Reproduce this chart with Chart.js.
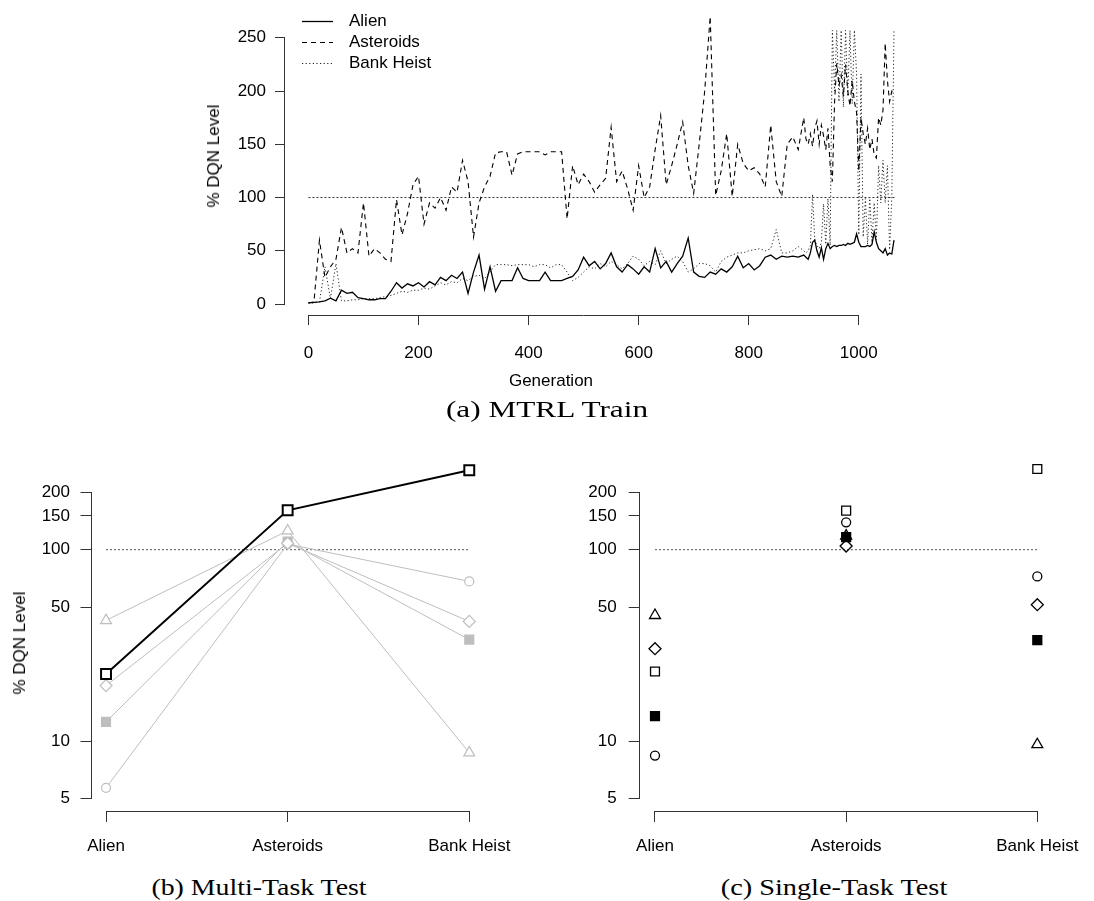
<!DOCTYPE html>
<html>
<head>
<meta charset="utf-8">
<title>MTRL</title>
<script src="https://cdn.jsdelivr.net/npm/chart.js@4.4.1/dist/chart.umd.min.js"></script>
<style>
  body { margin: 0; background: #fff; }
  #page { position: relative; width: 1094px; height: 901px; overflow: hidden; font-family: "Liberation Sans", Arial, sans-serif; color: #000; }
  canvas { position: absolute; }
  .lbl { position: absolute; white-space: nowrap; font-size: 17px; transform: translate(-50%, -50%); }
  .rot { transform: translate(-50%, -50%) rotate(-90deg); }
  .cap { position: absolute; white-space: nowrap; font-family: "Liberation Serif", serif; font-size: 23px; }
</style>
</head>
<body>
<div id="page">
  <canvas id="trainChart" width="1094" height="403" style="left:0px;top:-3px"></canvas>
  <canvas id="multiChart" width="547" height="430" style="left:0px;top:430px"></canvas>
  <canvas id="singleChart" width="547" height="430" style="left:547px;top:430px"></canvas>
  <div class="lbl rot" style="left:214px;top:156px">% DQN Level</div>
  <div class="lbl" style="left:551px;top:381px">Generation</div>
  <div class="cap" style="left:547px;top:410px;transform:translate(-50%,-50%) scaleX(1.36)">(a) MTRL Train</div>
  <div class="lbl rot" style="left:20px;top:643px">% DQN Level</div>
  <div class="cap" style="left:259px;top:888px;transform:translate(-50%,-50%) scaleX(1.21)">(b) Multi-Task Test</div>
  <div class="cap" style="left:834px;top:888px;transform:translate(-50%,-50%) scaleX(1.23)">(c) Single-Task Test</div>
</div>
<script>
// (a) training curves, % of DQN level per generation
const generations = [
  0, 10, 20, 30, 40, 50, 60, 70, 80, 90,
  100, 110, 120, 130, 140, 150, 160, 170, 180, 190,
  200, 210, 220, 230, 240, 250, 260, 270, 280, 290,
  300, 310, 320, 330, 340, 350, 360, 370, 380, 390,
  400, 410, 420, 430, 440, 450, 460, 470, 480, 490,
  500, 510, 520, 530, 540, 550, 560, 570, 580, 590,
  600, 610, 620, 630, 640, 650, 660, 670, 680, 690,
  700, 710, 720, 730, 740, 750, 760, 770, 780, 790,
  800, 810, 820, 830, 840, 850, 860, 870, 880, 890,
  900, 904, 908, 912, 916, 920, 924, 928, 932, 936, 940,
  944, 948, 952, 956, 960, 964, 968, 972, 976, 980,
  984, 988, 992, 996, 1000, 1004, 1008, 1012, 1016, 1020,
  1024, 1028, 1032, 1036, 1040, 1044, 1048, 1052, 1056, 1060, 1064
];
const alienScore = [
  1, 1.5, 2, 3, 5.5, 3, 13, 10, 11, 6,
  5, 4, 4, 5, 5, 12, 20, 15, 19, 17,
  20, 16, 21, 18, 25, 22, 27, 24, 30, 10,
  30, 46, 14, 35, 12, 22, 22, 22, 34, 24,
  22, 22, 22, 30, 22, 22, 22, 24, 26, 32,
  44, 36, 40, 33, 38, 48, 35, 30, 37, 33,
  28, 35, 30, 52, 34, 40, 30, 38, 45, 62,
  30, 26, 25, 30, 28, 33, 30, 35, 45, 34,
  38, 32, 36, 44, 46, 42, 45, 44, 45, 44,
  46, 44, 42, 48, 58, 60, 50, 44, 53, 42, 52,
  57, 52, 54, 55, 54, 55, 55, 56, 55, 57,
  56, 57, 58, 66, 58, 54, 54, 54, 55, 54,
  56, 68, 58, 52, 50, 48, 52, 46, 48, 47, 60
];
const asteroidsScore = [
  1, 2, 60, 25, 35, 42, 72, 48, 52, 48,
  95, 45, 52, 48, 42, 40, 98, 65, 85, 112,
  120, 75, 95, 90, 100, 88, 110, 105, 135, 115,
  63, 95, 110, 120, 142, 143, 143, 121, 141, 143,
  143, 143, 143, 140, 143, 143, 143, 80, 130, 112,
  122, 115, 105, 112, 118, 166, 115, 125, 108, 88,
  130, 100, 110, 145, 177, 112, 130, 150, 171, 130,
  104, 150, 200, 270, 102, 125, 160, 101, 150, 132,
  125, 128, 122, 110, 168, 115, 101, 150, 157, 145,
  175, 155, 150, 160, 148, 165, 172, 150, 168, 158, 145,
  165, 130, 115, 190, 226, 205, 215, 195, 225, 200,
  186, 210, 190, 180, 125, 175, 160, 150, 165, 145,
  155, 140, 137, 175, 168, 182, 245, 210, 190, 200, 198
];
const bankHeistScore = [
  1, 1, 2, 35, 5, 38, 3, 3, 4, 4,
  5, 5, 5, 6, 7, 8, 10, 12, 11, 13,
  13, 15, 14, 17, 20, 18, 21, 20, 24, 22,
  26, 27, 24, 30, 37, 37, 37, 36, 37, 37,
  37, 35, 37, 37, 34, 37, 37, 30, 22, 25,
  30, 35, 33, 38, 35, 40, 37, 33, 38, 45,
  42, 36, 40, 37, 50, 38, 42, 45, 40, 30,
  33, 38, 38, 36, 30, 40, 44, 46, 48, 48,
  50, 51, 52, 50, 52, 70, 48, 48, 50, 54,
  50, 48, 50, 55, 103, 60, 55, 52, 58, 94, 56,
  99, 55, 257, 200, 257, 190, 257, 185, 257, 195,
  257, 188, 257, 216, 65, 216, 63, 99, 56, 99,
  58, 95, 60, 130, 95, 135, 95, 130, 51, 100, 257
];
const dqnLevel = 100;
const trainXTicks = [0, 200, 400, 600, 800, 1000];
const trainYTicks = [0, 50, 100, 150, 200, 250];

// (b) and (c) test results per game
const games = ['Alien', 'Asteroids', 'Bank Heist'];
const testYTicks = [5, 10, 50, 100, 150, 200];
const multiSquare = [22.4, 160.6, 260];
const multiTriangle = [42.7, 125.6, 8.7];
const multiDiamond = [19.5, 108, 42.2];
const multiFilled = [12.6, 110.4, 33.9];
const multiCircle = [5.7, 107, 68.3];
const singleSquare = [23.1, 160, 264];
const singleCircle = [8.4, 139, 72.5];
const singleTriangle = [45.4, 118, 9.6];
const singleDiamond = [30.4, 104.5, 51.6];
const singleFilled = [13.5, 116.4, 33.7];

const font = { family: '"Liberation Sans", Arial, sans-serif', size: 17 };
const gray = '#bebebe';

function pts(xs, ys) { return ys.map((y, i) => ({ x: xs[i], y: y })); }
function gamePts(vals) { return vals.map((v, i) => ({ x: i + 1, y: v })); }
function tickGrid(len) {
  return { display: true, drawOnChartArea: false, drawTicks: true, tickLength: len, color: '#333', lineWidth: 1 };
}

// R style axis lines: only from first to last tick
const rAxes = {
  id: 'rAxes',
  afterDraw(chart, args, o) {
    const { ctx, chartArea: a, scales: { x, y } } = chart;
    const lx = Math.round(a.left) - 0.5, by = Math.round(a.bottom) + 0.5;
    ctx.save();
    ctx.strokeStyle = '#333';
    ctx.lineWidth = 1;
    ctx.beginPath();
    ctx.moveTo(lx, y.getPixelForValue(o.y[0]));
    ctx.lineTo(lx, y.getPixelForValue(o.y[1]));
    ctx.moveTo(x.getPixelForValue(o.x[0]), by);
    ctx.lineTo(x.getPixelForValue(o.x[1]), by);
    ctx.stroke();
    ctx.restore();
  }
};

const rLegend = {
  id: 'rLegend',
  afterDraw(chart, args, o) {
    const ctx = chart.ctx;
    ctx.save();
    ctx.font = '17px "Liberation Sans", Arial, sans-serif';
    ctx.fillStyle = '#000';
    ctx.textBaseline = 'middle';
    chart.data.datasets.slice(0, o.count).forEach((ds, i) => {
      const y = o.y + i * o.rowH + 0.5;
      ctx.strokeStyle = ds.borderColor;
      ctx.lineWidth = ds.borderWidth;
      ctx.setLineDash(ds.borderDash || []);
      ctx.beginPath();
      ctx.moveTo(o.x, y);
      ctx.lineTo(o.x + o.len, y);
      ctx.stroke();
      ctx.fillText(ds.label, o.textX, y);
    });
    ctx.restore();
  }
};

new Chart(document.getElementById('trainChart'), {
  type: 'line',
  data: {
    datasets: [
      { label: 'Alien', data: pts(generations, alienScore), borderColor: '#000', borderWidth: 1.3, pointRadius: 0 },
      { label: 'Asteroids', data: pts(generations, asteroidsScore), borderColor: '#000', borderWidth: 1.1, borderDash: [5, 4], pointRadius: 0 },
      { label: 'Bank Heist', data: pts(generations, bankHeistScore), borderColor: '#222', borderWidth: 1, borderDash: [1.2, 2.4], pointRadius: 0 },
      { label: 'DQN', data: [{ x: 0, y: dqnLevel }, { x: 1065, y: dqnLevel }], borderColor: '#333', borderWidth: 1, borderDash: [2, 2], pointRadius: 0 }
    ]
  },
  options: {
    responsive: false,
    animation: false,
    events: [],
    layout: { padding: { left: 0, right: 176, top: 21, bottom: 0 } },
    plugins: {
      legend: { display: false },
      tooltip: { enabled: false },
      rAxes: { x: [0, 1000], y: [0, 250] },
      rLegend: { count: 3, x: 302, len: 31, textX: 349, y: 24, rowH: 21 }
    },
    scales: {
      x: {
        type: 'linear', min: -42.6, max: 1107.6, bounds: 'data',
        afterBuildTicks: s => { s.ticks = trainXTicks.map(v => ({ value: v })); },
        afterFit: s => { s.height = 85; },
        grid: tickGrid(10), border: { display: false },
        ticks: { font, color: '#000', padding: 18, autoSkip: false, maxRotation: 0, callback: v => String(v) }
      },
      y: {
        type: 'linear', min: -10.3, max: 268.6, bounds: 'data',
        afterBuildTicks: s => { s.ticks = trainYTicks.map(v => ({ value: v })); },
        afterFit: s => { s.width = 285; },
        grid: tickGrid(10), border: { display: false },
        ticks: { font, color: '#000', padding: 9, autoSkip: false, callback: v => String(v) }
      }
    }
  },
  plugins: [rAxes, rLegend]
});

// y range runs past 200 so the top markers stay inside the plot area
function testChart(id, datasets, yWidth, padRight, yPad) {
  return new Chart(document.getElementById(id), {
    type: 'line',
    data: { datasets },
    options: {
      responsive: false,
      animation: false,
      events: [],
      layout: { padding: { left: 0, right: padRight, top: 23, bottom: 0 } },
      plugins: { legend: { display: false }, tooltip: { enabled: false }, rAxes: { x: [1, 3], y: [5, 200] } },
      scales: {
        x: {
          type: 'linear', min: 0.92, max: 3.08, bounds: 'data',
          afterBuildTicks: s => { s.ticks = games.map((g, i) => ({ value: i + 1 })); },
          afterFit: s => { s.height = 49; },
          grid: tickGrid(11), border: { display: false },
          ticks: { font, color: '#000', padding: 14, autoSkip: false, maxRotation: 0, callback: v => games[v - 1] }
        },
        y: {
          type: 'logarithmic', min: 4.314, max: 320, bounds: 'data',
          afterBuildTicks: s => { s.ticks = testYTicks.map(v => ({ value: v })); },
          afterFit: s => { s.width = yWidth; },
          grid: tickGrid(11), border: { display: false },
          ticks: { font, color: '#000', padding: yPad, autoSkip: false, callback: v => String(v) }
        }
      }
    },
    plugins: [rAxes]
  });
}

function dqnLine() {
  return { data: [{ x: 1, y: dqnLevel }, { x: 3, y: dqnLevel }], borderColor: '#555', borderWidth: 1, borderDash: [2, 2], pointRadius: 0, order: 9 };
}
function grayLine(vals, style, r, filled) {
  return {
    data: gamePts(vals), borderColor: gray, borderWidth: 1, clip: false, order: 2,
    pointStyle: style, pointRadius: r, pointBorderWidth: 1.2,
    pointBorderColor: gray, pointBackgroundColor: filled ? gray : '#fff'
  };
}
function blackPoints(vals, style, r, filled) {
  return {
    data: gamePts(vals), showLine: false, clip: false, order: 1,
    pointStyle: style, pointRadius: r, pointBorderWidth: 1.3,
    pointBorderColor: '#000', pointBackgroundColor: filled ? '#000' : 'rgba(0,0,0,0)'
  };
}

testChart('multiChart', [
  {
    data: gamePts(multiSquare), borderColor: '#000', borderWidth: 2, clip: false, order: 0,
    pointStyle: 'rect', pointRadius: 7, pointBorderWidth: 2, pointBorderColor: '#000', pointBackgroundColor: '#fff'
  },
  grayLine(multiTriangle, 'triangle', 6.3, false),
  grayLine(multiDiamond, 'rectRot', 6, false),
  grayLine(multiFilled, 'rect', 6.3, true),
  grayLine(multiCircle, 'circle', 4.5, false),
  dqnLine()
], 91.5, 63.2, 10.5);

testChart('singleChart', [
  blackPoints(singleSquare, 'rect', 6.3, false),
  blackPoints(singleCircle, 'circle', 4.5, false),
  blackPoints(singleTriangle, 'triangle', 6.3, false),
  blackPoints(singleDiamond, 'rectRot', 6, false),
  blackPoints(singleFilled, 'rect', 6.3, true),
  dqnLine()
], 92.7, 41.4, 12);
</script>
</body>
</html>
